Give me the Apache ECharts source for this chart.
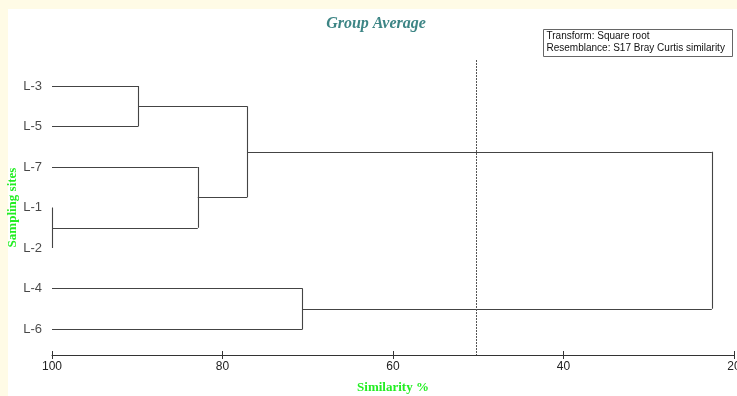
<!DOCTYPE html>
<html><head><meta charset="utf-8">
<script src="https://cdn.jsdelivr.net/npm/echarts@6/dist/echarts.min.js"></script>
<style>html,body{margin:0;padding:0;background:#fffbe6;}#c{width:737px;height:396px;}</style>
</head><body><div id="c"></div>
<script>
// Leaf order (top to bottom)
var leaves = ['L-3', 'L-5', 'L-7', 'L-1', 'L-2', 'L-4', 'L-6'];
// Merges: [left child, right child, similarity %]; children are leaf names or merge ids (m0, m1, ...)
var mergeLeft  = ['L-1', 'L-3', 'L-7', 'm1', 'L-4', 'm3'];
var mergeRight = ['L-2', 'L-5', 'm0',  'm2', 'L-6', 'm4'];
var mergeSim   = [100,   89.9,  82.9,  77.1,  70.6,  22.6];
var cutLevel = 50.2;
var xTicks = [100, 80, 60, 40, 20];

var nodeY = {}, nodeX = {};
leaves.forEach(function (n, i) { nodeY[n] = i; nodeX[n] = 100; });
var segs = [];
mergeSim.forEach(function (s, k) {
  var a = mergeLeft[k], b = mergeRight[k], id = 'm' + k;
  segs.push({ coords: [[nodeX[a], nodeY[a]], [s, nodeY[a]]] });
  segs.push({ coords: [[nodeX[b], nodeY[b]], [s, nodeY[b]]] });
  segs.push({ coords: [[s, nodeY[a]], [s, nodeY[b]]] });
  nodeY[id] = (nodeY[a] + nodeY[b]) / 2; nodeX[id] = s;
});

var chart = echarts.init(document.getElementById('c'), null, { renderer: 'canvas' });
chart.setOption({
  animation: false,
  backgroundColor: '#fffbe6',
  graphic: [
    { type: 'rect', left: 8, top: 9, shape: { width: 729, height: 387 }, style: { fill: '#ffffff' }, z: -10 },
    { type: 'group', left: 543, top: 29, children: [
      { type: 'rect', shape: { x: 0, y: 0, width: 189, height: 27 }, style: { fill: '#fff', stroke: '#666', lineWidth: 1 } },
      { type: 'text', x: 3, y: 2, style: { text: 'Transform: Square root', font: '10px "Liberation Sans", Arial', fill: '#111' } },
      { type: 'text', x: 3, y: 14, style: { text: 'Resemblance: S17 Bray Curtis similarity', font: '10px "Liberation Sans", Arial', fill: '#111' } }
    ]}
  ],
  title: {
    text: 'Group Average', left: 371, top: 11, textAlign: 'center',
    textStyle: { fontFamily: '"Liberation Serif", "Times New Roman", serif', fontStyle: 'italic', fontWeight: 'bold', fontSize: 16, color: '#3d8585' }
  },
  grid: { left: 52, right: 3, top: 60, bottom: 41, containLabel: false, outerBoundsMode: 'none' },
  xAxis: [{
    type: 'value', min: 20, max: 100, interval: 20, inverse: true, position: 'bottom',
    name: 'Similarity %', nameLocation: 'middle', nameGap: 26,
    nameTextStyle: { fontFamily: '"Liberation Serif", serif', fontWeight: 'bold', fontSize: 13, color: '#22ee22' },
    axisLine: { show: true, onZero: false, lineStyle: { color: '#333', width: 1 } },
    axisTick: { show: true, length: 4, lineStyle: { color: '#333' } },
    axisLabel: { fontFamily: '"Liberation Sans", Arial', fontSize: 12, color: '#222', margin: 6,
      formatter: function (v) { return xTicks.indexOf(v) >= 0 ? String(v) : ''; } },
    splitLine: { show: false }
  }, {
    type: 'value', min: 20, max: 100, interval: 20, inverse: true, position: 'bottom',
    axisLine: { show: false, onZero: false }, axisLabel: { show: false }, splitLine: { show: false },
    axisTick: { show: true, inside: true, length: 4, lineStyle: { color: '#333' } }
  }],
  yAxis: {
    type: 'value', min: -0.64, max: 6.64, inverse: true,
    name: 'Sampling sites', nameLocation: 'middle', nameGap: 33, nameRotate: 90,
    nameTextStyle: { fontFamily: '"Liberation Serif", serif', fontWeight: 'bold', fontSize: 13, color: '#22ee22' },
    axisLine: { show: false }, axisTick: { show: false }, axisLabel: { show: false }, splitLine: { show: false }
  },
  series: [
    {
      type: 'lines', coordinateSystem: 'cartesian2d', polyline: false, silent: true,
      lineStyle: { color: '#444', width: 1.1, opacity: 1 },
      data: segs,
      markLine: {
        silent: true, symbol: 'none', label: { show: false },
        lineStyle: { type: [2, 1], color: '#555', width: 1 },
        data: [{ xAxis: cutLevel }]
      }
    },
    {
      type: 'scatter', symbolSize: 0, silent: true,
      data: leaves.map(function (n, i) { return { value: [100, i], name: n }; }),
      label: { show: true, position: 'left', distance: 10, formatter: '{b}',
        fontFamily: '"Liberation Sans", Arial', fontSize: 13, color: '#1a1a1a' }
    }
  ]
});
</script></body></html>
